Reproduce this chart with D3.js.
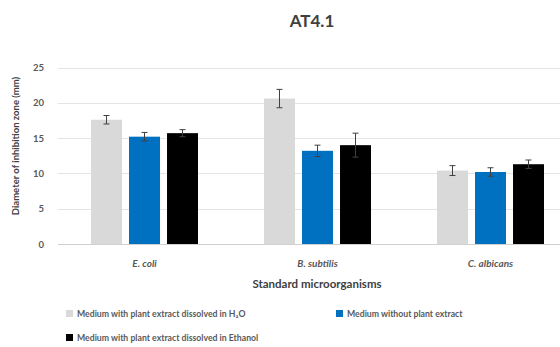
<!DOCTYPE html>
<html>
<head>
<meta charset="utf-8">
<script src="https://cdn.jsdelivr.net/npm/d3@7"></script>
<style>
  html, body { margin: 0; padding: 0; background: #fff; }
  svg { display: block; font-family: Lato, "Open Sans", sans-serif; }
</style>
</head>
<body>
<svg id="chart" width="560" height="347"></svg>
<script>
// Inhibition zone diameters (mm) per organism and medium
const categories = ["E. coli", "B. subtilis", "C. albicans"];
const seriesNames = [
  "Medium with plant extract dissolved in H\u2082O",
  "Medium without plant extract",
  "Medium with plant extract dissolved in Ethanol"
];
const seriesColors = ["#d9d9d9", "#0070c0", "#000000"];
const h2oValues = [17.6, 20.6, 10.4];
const controlValues = [15.2, 13.2, 10.2];
const ethanolValues = [15.7, 14.0, 11.3];
const h2oErrors = [0.6, 1.3, 0.7];
const controlErrors = [0.6, 0.8, 0.6];
const ethanolErrors = [0.5, 1.7, 0.6];
const yTicks = [0, 5, 10, 15, 20, 25];

const seriesValues = [h2oValues, controlValues, ethanolValues];
const seriesErrors = [h2oErrors, controlErrors, ethanolErrors];

const svg = d3.select("#chart");
const plot = { left: 58, right: 577, top: 66, bottom: 244 };

const x = d3.scaleBand().domain(categories).range([plot.left, plot.right]).paddingInner(0).paddingOuter(0);
const y = d3.scaleLinear().domain([0, 25]).range([plot.bottom, plot.top + 1.5]);

const groupWidth = 107;
const xs = d3.scaleBand().domain(d3.range(3)).range([0, groupWidth]).paddingInner(0.185).paddingOuter(0);

// gridlines
svg.append("g").selectAll("line").data(yTicks.slice(1)).join("line")
  .attr("x1", plot.left).attr("x2", plot.right)
  .attr("y1", d => Math.round(y(d)) + 0.5).attr("y2", d => Math.round(y(d)) + 0.5)
  .attr("stroke", "#e4e4e4").attr("stroke-width", 1);

// baseline
svg.append("line")
  .attr("x1", plot.left).attr("x2", plot.right)
  .attr("y1", Math.round(y(0)) + 0.5).attr("y2", Math.round(y(0)) + 0.5)
  .attr("stroke", "#d0d0d0");

// y tick labels
svg.append("g").selectAll("text").data(yTicks).join("text")
  .attr("x", 44).attr("y", d => y(d) + 3.5)
  .attr("text-anchor", "end")
  .attr("font-size", 9.5).attr("font-weight", 700).attr("fill", "#595959")
  .text(d => d);

// bars
const groups = svg.append("g").selectAll("g").data(categories).join("g")
  .attr("transform", d => `translate(${x(d) + (x.bandwidth() - groupWidth) / 2},0)`);

seriesValues.forEach((vals, si) => {
  groups.append("rect")
    .attr("x", xs(si))
    .attr("width", xs.bandwidth())
    .attr("y", (d, i) => y(vals[i]))
    .attr("height", (d, i) => y(0) - y(vals[i]))
    .attr("fill", seriesColors[si]);
});

// error bars
seriesValues.forEach((vals, si) => {
  const errs = seriesErrors[si];
  const cx = xs(si) + xs.bandwidth() / 2;
  groups.each(function(d, i) {
    const g = d3.select(this);
    const top = y(vals[i] + errs[i]);
    const bot = y(vals[i] - errs[i]);
    g.append("line").attr("x1", cx).attr("x2", cx).attr("y1", top).attr("y2", bot)
      .attr("stroke", "#404040").attr("stroke-width", 1);
    [top, bot].forEach(yy => {
      g.append("line").attr("x1", cx - 3).attr("x2", cx + 3).attr("y1", yy).attr("y2", yy)
        .attr("stroke", "#404040").attr("stroke-width", 1);
    });
  });
});

// category labels
svg.append("g").selectAll("text").data(categories).join("text")
  .attr("x", d => x(d) + x.bandwidth() / 2).attr("y", 267)
  .attr("text-anchor", "middle")
  .attr("font-size", 10).attr("font-style", "italic").attr("font-weight", 700).attr("fill", "#595959")
  .text(d => d);

// axis titles
svg.append("text")
  .attr("x", 317).attr("y", 288)
  .attr("text-anchor", "middle")
  .attr("font-size", 11.5).attr("font-weight", 700).attr("fill", "#404040")
  .text("Standard microorganisms");

svg.append("text")
  .attr("transform", "translate(19,146) rotate(-90)")
  .attr("text-anchor", "middle")
  .attr("font-size", 9.5).attr("font-weight", 700).attr("fill", "#404040")
  .text("Diameter of inhibition zone (mm)");

// chart title
svg.append("text")
  .attr("x", 312).attr("y", 27)
  .attr("text-anchor", "middle")
  .attr("font-size", 17).attr("font-weight", 700).attr("fill", "#404040")
  .text("AT4.1");

// legend
const legendPos = [[66, 317], [336, 317], [66, 341]];
const legend = svg.append("g").selectAll("g").data(seriesNames).join("g")
  .attr("transform", (d, i) => `translate(${legendPos[i][0]},${legendPos[i][1]})`);
legend.append("rect")
  .attr("x", 0).attr("y", -7).attr("width", 7).attr("height", 7)
  .attr("fill", (d, i) => seriesColors[i]);
legend.append("text")
  .attr("x", 11).attr("y", 0)
  .attr("font-size", 8.7).attr("fill", "#595959").attr("font-weight", 700)
  .text(d => d);
</script>
</body>
</html>
